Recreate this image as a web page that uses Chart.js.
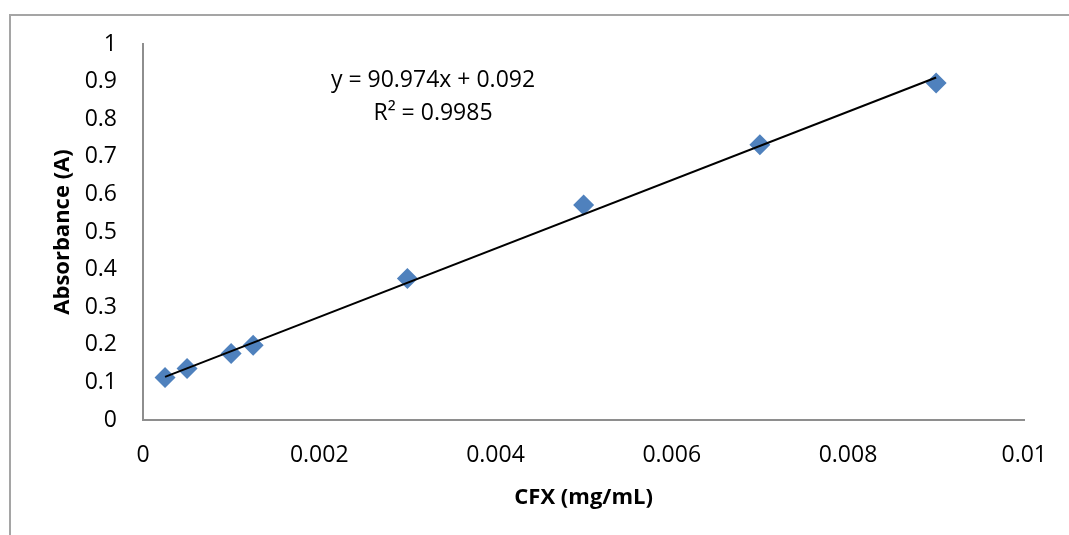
<!DOCTYPE html>
<html>
<head>
<meta charset="utf-8">
<script src="https://cdn.jsdelivr.net/npm/chart.js@4/dist/chart.umd.min.js"></script>
<style>
  html, body { margin: 0; padding: 0; background: #fff; }
  #page { position: relative; width: 1069px; height: 535px; overflow: hidden; }
  #frame { position: absolute; left: 9px; top: 14px; width: 1100px; height: 560px; border: 2px solid #a5a5a5; }
  #chart { position: absolute; left: 0; top: 0; }
</style>
</head>
<body>
<div id="page">
  <div id="frame"></div>
  <canvas id="chart" width="1069" height="535"></canvas>
</div>
<script>
// concentrations (mg/mL) and measured absorbance
const concentrations = [0.00025, 0.0005, 0.001, 0.00125, 0.003, 0.005, 0.007, 0.009];
const absorbance = [0.113, 0.137, 0.177, 0.199, 0.376, 0.572, 0.732, 0.896];

// linear trendline as reported on the chart
const slope = 90.974;
const intercept = 0.092;
const rSquared = '0.9985';

const xTicks = [0, 0.002, 0.004, 0.006, 0.008, 0.01];
const yTicks = [0, 0.1, 0.2, 0.3, 0.4, 0.5, 0.6, 0.7, 0.8, 0.9, 1];

const FONT = "'Open Sans', 'Noto Sans', sans-serif";
const AXIS_GREY = '#8e8e8e';

const points = concentrations.map((c, i) => ({ x: c, y: absorbance[i] }));
const xMin = Math.min(...concentrations);
const xMax = Math.max(...concentrations);
const trend = [
  { x: xMin, y: slope * xMin + intercept },
  { x: xMax, y: slope * xMax + intercept },
];

const fmt = (v) => String(parseFloat(Number(v).toFixed(4)));

// draws the trendline equation text
const equationLabel = {
  id: 'equationLabel',
  afterDatasetsDraw(chart) {
    const { ctx, chartArea } = chart;
    const cx = chartArea.left + 290;
    ctx.save();
    ctx.fillStyle = '#000';
    ctx.font = '23px ' + FONT;
    ctx.textAlign = 'center';
    ctx.textBaseline = 'middle';
    ctx.fillText('y = ' + slope + 'x + ' + intercept, cx, 80);
    ctx.fillText('R² = ' + rSquared, cx, 113);
    ctx.restore();
  }
};

new Chart(document.getElementById('chart'), {
  type: 'scatter',
  data: {
    datasets: [
      {
        label: 'Absorbance',
        data: points,
        pointStyle: 'rectRot',
        pointRadius: 10.5,
        pointHoverRadius: 10.5,
        backgroundColor: '#4F81BD',
        borderColor: '#4F81BD',
        borderWidth: 0,
        clip: false,
        order: 2,
      },
      {
        label: 'Linear',
        type: 'line',
        data: trend,
        borderColor: '#000',
        borderWidth: 2,
        pointRadius: 0,
        fill: false,
        order: 1,
      },
    ],
  },
  options: {
    responsive: false,
    animation: false,
    devicePixelRatio: 1,
    layout: { autoPadding: false, padding: { left: 0, right: 39, top: 44, bottom: 0 } },
    plugins: {
      legend: { display: false },
      tooltip: { enabled: false },
    },
    scales: {
      x: {
        type: 'linear',
        min: 0,
        max: 0.01,
        afterBuildTicks: (scale) => { scale.ticks = xTicks.map(v => ({ value: v })); },
        afterFit: (scale) => { scale.height = 115; },
        grid: { display: true, drawOnChartArea: false, drawTicks: false },
        border: { display: true, color: AXIS_GREY, width: 2 },
        ticks: {
          padding: 22,
          color: '#000',
          font: { family: FONT, size: 23 },
          maxRotation: 0,
          callback: fmt,
        },
        title: {
          display: true,
          text: 'CFX (mg/mL)',
          color: '#000',
          font: { family: FONT, size: 22, weight: 'bold' },
          padding: { top: 0, bottom: 24 },
        },
      },
      y: {
        type: 'linear',
        min: 0,
        max: 1,
        afterBuildTicks: (scale) => { scale.ticks = yTicks.map(v => ({ value: v })); },
        afterFit: (scale) => { scale.width = 143; },
        grid: { display: true, drawOnChartArea: false, drawTicks: false },
        border: { display: true, color: AXIS_GREY, width: 2 },
        ticks: {
          padding: 26,
          color: '#000',
          font: { family: FONT, size: 23 },
          callback: fmt,
        },
        title: {
          display: true,
          text: 'Absorbance (A)',
          color: '#000',
          font: { family: FONT, size: 22, weight: 'bold' },
          padding: { top: 50, bottom: 0 },
        },
      },
    },
  },
  plugins: [equationLabel],
});
</script>
</body>
</html>
